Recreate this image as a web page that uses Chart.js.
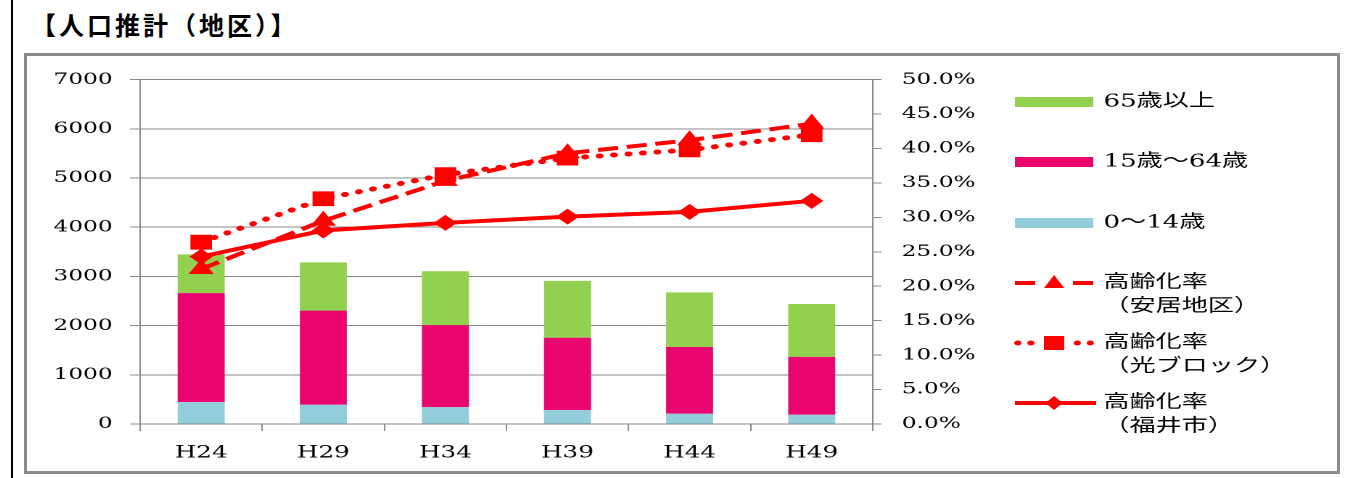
<!DOCTYPE html>
<html>
<head>
<meta charset="utf-8">
<script src="https://cdn.jsdelivr.net/npm/chart.js@4"></script>
<style>
  body { margin: 0; background: #fff; width: 1351px; height: 478px; overflow: hidden; position: relative; }
  .edge { position: absolute; left: 11px; top: 0; width: 2px; height: 478px; background: #000; }
  .title { position: absolute; left: 31px; top: 6px; font: bold 25px "Noto Sans CJK JP", sans-serif; letter-spacing: 3px; color: #000; white-space: nowrap; }
  .frame { position: absolute; left: 24px; top: 53px; width: 1310px; height: 415px; border: 3px solid #8c8c8c; }
  .stretch { position: absolute; left: 27px; top: 56px; width: 903px; height: 416px; transform: scaleX(1.4507); transform-origin: 0 0; }
</style>
</head>
<body>
<div class="edge"></div>
<div class="title">【人口推計（地区）】</div>
<div class="frame"></div>
<div class="stretch"><canvas id="pop-chart" width="903" height="416"></canvas></div>
<script>
// Data
const years = ["H24", "H29", "H34", "H39", "H44", "H49"];
const age0to14 = [445, 390, 343, 282, 208, 188];
const age15to64 = [2216, 1914, 1667, 1472, 1356, 1177];
const age65plus = [787, 982, 1095, 1155, 1111, 1075];
const rateAnzu = [0.225, 0.295, 0.353, 0.393, 0.412, 0.436];
const rateHikari = [0.264, 0.327, 0.362, 0.386, 0.398, 0.420];
const rateFukui = [0.243, 0.281, 0.292, 0.301, 0.308, 0.324];

const red = "#ff0000";
const axisFont = { family: "DejaVu Serif", size: 16 };

// legend rows: [label lines, kind, y]
const legendRows = [
  { lines: ["65歳以上"], color: "#92d050", kind: "bar", y: 46 },
  { lines: ["15歳～64歳"], color: "#e8066e", kind: "bar", y: 106 },
  { lines: ["0～14歳"], color: "#92cddc", kind: "bar", y: 167 },
  { lines: ["高齢化率", "（安居地区）"], kind: "dash", y: 227 },
  { lines: ["高齢化率", "（光ブロック）"], kind: "dot", y: 287 },
  { lines: ["高齢化率", "（福井市）"], kind: "solid", y: 347 },
];

const drawMarker = (ctx, kind, x, y) => {
  ctx.save();
  ctx.fillStyle = red;
  ctx.beginPath();
  if (kind === "dash") {
    ctx.moveTo(x, y - 8);
    ctx.lineTo(x + 7, y + 5);
    ctx.lineTo(x - 7, y + 5);
  } else if (kind === "dot") {
    ctx.rect(x - 7, y - 7, 14, 14);
  } else {
    ctx.moveTo(x, y - 7);
    ctx.lineTo(x + 6, y);
    ctx.lineTo(x, y + 7);
    ctx.lineTo(x - 6, y);
  }
  ctx.closePath();
  ctx.fill();
  ctx.restore();
};

const legendPlugin = {
  id: "sideLegend",
  afterDraw(chart) {
    const ctx = chart.ctx;
    const x0 = 681, x1 = 735, xm = 708, tx = 742;
    ctx.save();
    ctx.font = '18px "DejaVu Serif", "Noto Sans CJK JP"';
    ctx.textBaseline = "middle";
    ctx.fillStyle = "#000";
    legendRows.forEach((row) => {
      const y = row.y;
      if (row.kind === "bar") {
        ctx.fillStyle = row.color;
        ctx.fillRect(x0, y - 5, x1 - x0, 10);
      } else {
        ctx.strokeStyle = red;
        ctx.fillStyle = red;
        ctx.lineWidth = 4;
        if (row.kind === "dash") {
          ctx.beginPath();
          ctx.moveTo(x0, y); ctx.lineTo(x0 + 14, y);
          ctx.moveTo(x1 - 14, y); ctx.lineTo(x1, y);
          ctx.stroke();
        } else if (row.kind === "dot") {
          [683, 692, 724, 733].forEach((dx) => {
            ctx.beginPath();
            ctx.arc(dx, y, 2.5, 0, Math.PI * 2);
            ctx.fill();
          });
        } else {
          ctx.beginPath();
          ctx.moveTo(x0, y); ctx.lineTo(x1 + 2, y);
          ctx.stroke();
        }
        drawMarker(ctx, row.kind, xm, y);
      }
      ctx.fillStyle = "#000";
      row.lines.forEach((t, i) => ctx.fillText(t, tx, y + i * 24));
    });
    ctx.restore();
  },
};

const data = {
  labels: years,
  datasets: [
    { type: "line", label: "高齢化率（安居地区）", data: rateAnzu, yAxisID: "y1", order: 0,
      borderColor: red, backgroundColor: red, borderWidth: 4, borderDash: [14, 6],
      pointStyle: "triangle", pointRadius: 10, pointBorderWidth: 0 },
    { type: "line", label: "高齢化率（光ブロック）", data: rateHikari, yAxisID: "y1", order: 0,
      borderColor: red, backgroundColor: red, borderWidth: 5, borderDash: [0.5, 9.5], borderCapStyle: "round",
      pointStyle: "rect", pointRadius: 10.5, pointBorderWidth: 0 },
    { type: "line", label: "高齢化率（福井市）", data: rateFukui, yAxisID: "y1", order: 0,
      borderColor: red, backgroundColor: red, borderWidth: 4,
      pointStyle: "rectRot", pointRadius: 8, pointBorderWidth: 0 },
    { label: "0～14歳", data: age0to14, backgroundColor: "#92cddc", order: 1, stack: "pop" },
    { label: "15歳～64歳", data: age15to64, backgroundColor: "#e8066e", order: 1, stack: "pop" },
    { label: "65歳以上", data: age65plus, backgroundColor: "#92d050", order: 1, stack: "pop" },
  ],
};

const config = {
  type: "bar",
  data: data,
  options: {
    responsive: false,
    animation: false,
    devicePixelRatio: 2,
    layout: { padding: { top: 20, right: 220, bottom: 0, left: 0 } },
    datasets: { bar: { barPercentage: 0.385, categoryPercentage: 1 } },
    plugins: { legend: { display: false }, tooltip: { enabled: false } },
    scales: {
      x: {
        stacked: true,
        grid: { drawOnChartArea: false, tickLength: 7, color: "#888", offset: true },
        border: { color: "#888" },
        ticks: { font: { ...axisFont, size: 17 }, color: "#000", padding: 12 },
        afterFit: (s) => { s.height = 48; },
      },
      y: {
        position: "left",
        stacked: true,
        min: 0,
        max: 7000,
        grid: { color: "#888", tickLength: 7 },
        border: { color: "#888" },
        ticks: { stepSize: 1000, font: axisFont, color: "#000", padding: 12, callback: (v) => String(v) },
        afterFit: (s) => { s.width = 78; },
      },
      y1: {
        position: "right",
        min: 0,
        max: 0.5,
        grid: { drawOnChartArea: false, tickLength: 6, color: "#888" },
        border: { color: "#888" },
        ticks: {
          stepSize: 0.05, autoSkip: false, font: axisFont, color: "#000", padding: 14,
          callback: (v) => (v * 100).toFixed(1) + "%",
        },
        afterFit: (s) => { s.width = 100; },
      },
    },
  },
  plugins: [legendPlugin],
};

new Chart(document.getElementById("pop-chart"), config);
</script>
</body>
</html>
